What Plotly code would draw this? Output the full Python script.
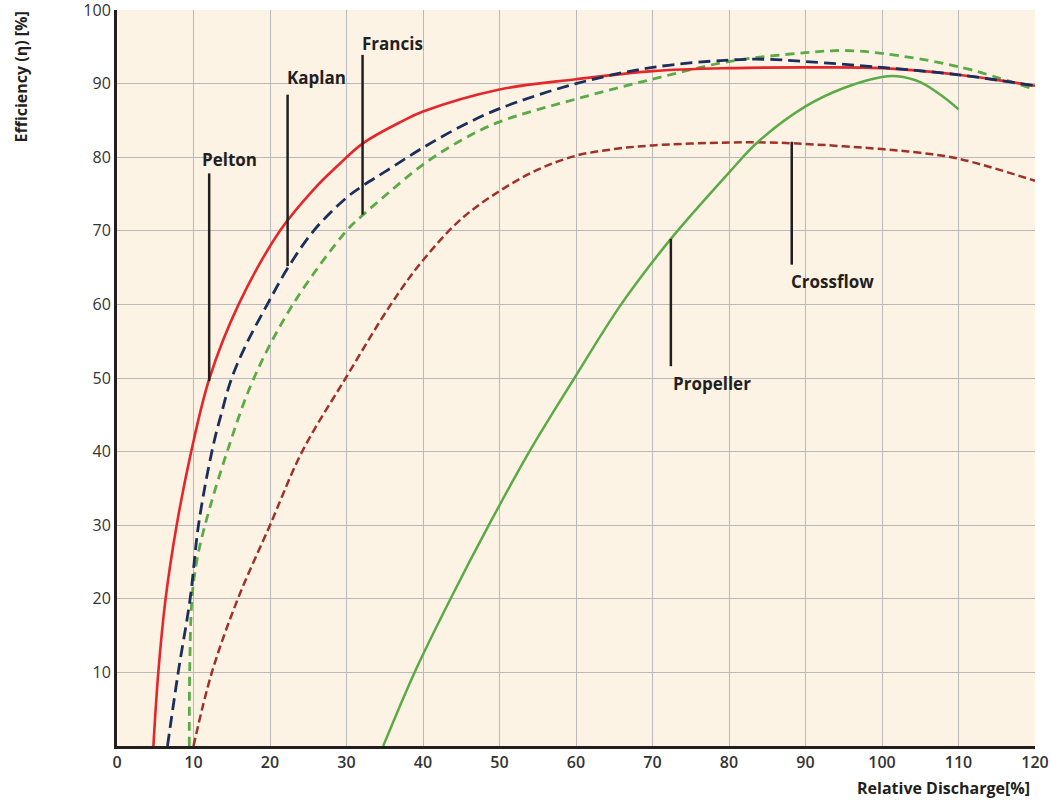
import plotly.graph_objects as go

# ---- data ----
pelton_x = [4.76, 5.4, 6.35, 7.8, 9.7, 12.1, 15.9, 21.3, 25.7, 28.8, 32.1, 37.1, 40, 50, 60, 70, 80, 90, 100, 110, 120]
pelton_y = [0, 10, 20, 30, 40, 50, 60, 70, 75.6, 78.8, 81.85, 84.8, 86.2, 89.2, 90.6, 91.7, 92.1, 92.2, 92.1, 91.2, 89.7]

kaplan_x = [6.6, 8.0, 9.56, 10.65, 12.4, 13.6, 15.0, 17.0, 19.65, 22.3, 25.7, 30, 32.1, 35, 40, 45, 50, 60, 70, 80, 85, 90, 100, 110, 120]
kaplan_y = [0, 10, 20, 30, 40, 45, 50, 54.8, 60, 64.9, 70, 74.5, 76.1, 78.0, 81.3, 84.2, 86.6, 90.0, 92.2, 93.2, 93.3, 93.0, 92.2, 91.2, 89.7]

francis_x = [9.45, 9.5, 9.8, 10.4, 11.5, 14.4, 17.9, 23.0, 30.0, 32.1, 35.3, 40, 45, 50, 60, 70, 80, 90, 95, 100, 110, 120]
francis_y = [0, 10, 20, 25, 30, 40, 50, 60, 70, 72.1, 75.0, 79.0, 82.3, 84.8, 87.9, 90.6, 93.0, 94.2, 94.5, 94.1, 92.3, 89.2]

crossflow_x = [10.0, 12.4, 15.8, 20.0, 24.2, 29.9, 35.8, 40, 45, 50, 55, 60, 65, 70, 80, 85, 90, 100, 105, 110, 120]
crossflow_y = [0, 10, 20, 30, 40, 50, 60, 66.0, 71.6, 75.4, 78.3, 80.2, 81.1, 81.6, 82.0, 82.0, 81.8, 81.1, 80.6, 79.8, 76.8]

propeller_x = [34.8, 38.9, 43.6, 48.6, 53.9, 59.8, 65.9, 72.4, 80, 83.7, 90, 95, 100, 102, 105, 108, 110]
propeller_y = [0, 10, 20, 30, 40, 50, 60, 68.9, 77.9, 82.0, 86.9, 89.4, 90.9, 91.0, 90.2, 88.2, 86.5]

x_ticks = [0, 10, 20, 30, 40, 50, 60, 70, 80, 90, 100, 110, 120]
y_ticks = [10, 20, 30, 40, 50, 60, 70, 80, 90, 100]

# labels: (text, line x, line y0, line y1, text x, text y)
labels = [
    ("Pelton", 12.05, 49.6, 77.8, 10.9, 79.7),
    ("Kaplan", 22.3, 65.2, 88.5, 21.9, 90.8),
    ("Francis", 32.1, 72.2, 93.9, 31.8, 95.5),
    ("Crossflow", 88.2, 65.4, 82.1, 87.8, 63.1),
    ("Propeller", 72.4, 51.6, 68.9, 72.4, 49.2),
]

RED = "#e5262b"
NAVY = "#1b2f5c"
GREEN = "#5aaa46"
BROWN = "#a23027"
INK = "#231f20"

fig = go.Figure()
fig.add_trace(go.Scatter(x=crossflow_x, y=crossflow_y, mode="lines", line=dict(color=BROWN, width=2.5, dash="8px,4px", shape="spline", smoothing=1.0)))
fig.add_trace(go.Scatter(x=propeller_x, y=propeller_y, mode="lines", line=dict(color=GREEN, width=2.5, shape="spline", smoothing=1.0)))
fig.add_trace(go.Scatter(x=francis_x, y=francis_y, mode="lines", line=dict(color=GREEN, width=2.8, dash="9px,6px", shape="spline", smoothing=1.0)))
fig.add_trace(go.Scatter(x=pelton_x, y=pelton_y, mode="lines", line=dict(color=RED, width=2.6, shape="spline", smoothing=1.0)))
fig.add_trace(go.Scatter(x=kaplan_x, y=kaplan_y, mode="lines", line=dict(color=NAVY, width=2.8, dash="12px,6px", shape="spline", smoothing=1.0)))

annotations = []
shapes = []
for text, lx, ly0, ly1, tx, ty in labels:
    shapes.append(dict(type="line", xref="x", yref="y", x0=lx, x1=lx, y0=ly0, y1=ly1,
                       line=dict(color=INK, width=2.5)))
    annotations.append(dict(text=text, x=tx, y=ty, xref="x", yref="y", showarrow=False,
                            xanchor="left", yanchor="middle",
                            font=dict(family="Open Sans", size=17, color=INK, weight=700)))

annotations.append(dict(text="Efficiency (η) [%]", xref="paper", yref="paper", x=0, y=1,
                        xshift=-97, yshift=0, xanchor="center", yanchor="top", textangle=-90,
                        showarrow=False, font=dict(family="Open Sans", size=16, color=INK, weight=700)))
annotations.append(dict(text="Relative Discharge[%]", xref="paper", yref="paper", x=1, y=0,
                        xshift=-3, yshift=-42, xanchor="right", yanchor="middle",
                        showarrow=False, font=dict(family="Open Sans", size=16, color=INK, weight=700)))

fig.update_layout(
    width=1050, height=806,
    margin=dict(l=117, r=15, t=10, b=60, autoexpand=False),
    paper_bgcolor="white",
    plot_bgcolor="#fdf3e5",
    showlegend=False,
    shapes=shapes,
    annotations=annotations,
    xaxis=dict(range=[0, 120], tickvals=x_ticks, ticktext=[str(v) for v in x_ticks],
               showgrid=True, gridcolor="#b9b9bc", gridwidth=1, zeroline=False,
               showline=True, linecolor=INK, linewidth=3, ticks="", automargin=False,
               ticklabeloverflow="allow",
               tickfont=dict(family="Open Sans", size=16, color="#333333", weight=600)),
    yaxis=dict(range=[0, 100], tickvals=y_ticks, ticktext=[str(v) for v in y_ticks],
               showgrid=True, gridcolor="#b9b9bc", gridwidth=1, zeroline=False,
               showline=True, linecolor=INK, linewidth=3, ticks="", automargin=False,
               ticklabeloverflow="allow",
               tickfont=dict(family="Open Sans", size=16, color="#333333")),
)

fig.write_html("out.html", config={"displayModeBar": False},
               post_script="document.body.style.margin='0';")
